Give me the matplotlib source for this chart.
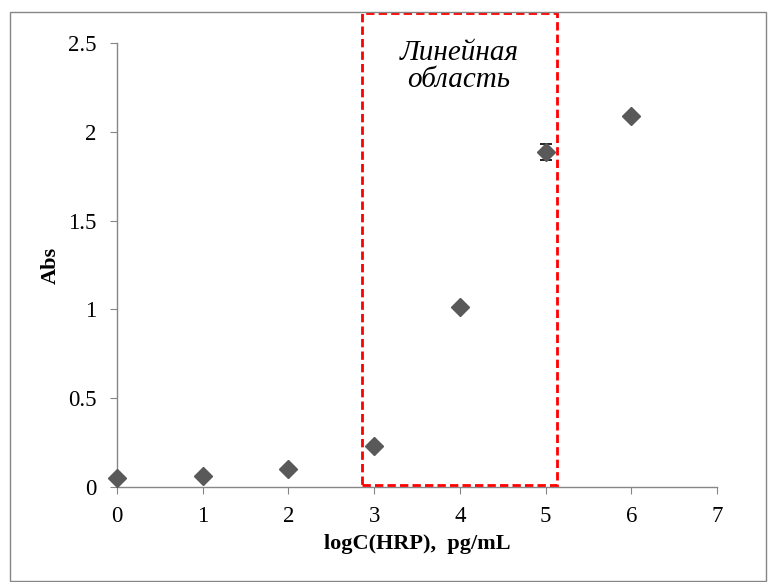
import matplotlib
matplotlib.use("Agg")
import matplotlib.pyplot as plt
from matplotlib.patches import Rectangle

x_vals = [0, 1, 2, 3, 4, 5, 6]
abs_vals = [0.051, 0.062, 0.101, 0.231, 1.013, 1.886, 2.089]
abs_err = [0, 0, 0, 0, 0, 0.045, 0]
x_ticks = [0, 1, 2, 3, 4, 5, 6, 7]
y_ticks = [0, 0.5, 1, 1.5, 2, 2.5]
y_tick_labels = ["0", "0.5", "1", "1.5", "2", "2.5"]
region = (2.86, 5.13)
annot = "Линейная\nобласть"

plt.rcParams['font.family'] = ['Liberation Serif', 'DejaVu Serif']

fig = plt.figure(figsize=(7.68, 5.82), dpi=100)
ax = fig.add_axes([117/768, 1-487/582, 600/768, 444/582])

ax.errorbar(x_vals, abs_vals, yerr=abs_err, fmt='D', color='#595959',
            markersize=9.5, ecolor='black', elinewidth=1, capsize=4, capthick=1.2,
            zorder=3, clip_on=False)

ax.set_xlim(0, 7)
ax.set_ylim(0, 2.5)
ax.set_xticks(x_ticks)
ax.set_yticks(y_ticks)
ax.set_yticklabels(y_tick_labels)
for s in ['top', 'right']:
    ax.spines[s].set_visible(False)
for s in ['left', 'bottom']:
    ax.spines[s].set_color('#868686')
    ax.spines[s].set_linewidth(1)
ax.tick_params(direction='out', length=5, color='#868686', labelsize=16.5,
               labelcolor='black')
ax.tick_params(axis='x', pad=9)
ax.tick_params(axis='y', pad=10)

ax.set_xlabel("logC(HRP),  pg/mL", fontsize=16, fontweight='bold')
ax.xaxis.set_label_coords(0.5, -0.105)
ax.set_ylabel("Abs", fontsize=16, fontweight='bold')
ax.yaxis.set_label_coords(-0.093, 0.5)

rect = Rectangle((region[0], 0.012), region[1]-region[0], 2.655, fill=False,
                 edgecolor='#ff0000', linestyle=(0, (3, 1.5)), linewidth=2,
                 clip_on=False, zorder=4)
ax.add_patch(rect)

ax.text(3.99, 2.37, annot, ha='center', va='center', fontsize=21,
        fontstyle='italic', linespacing=1.05)

border = Rectangle((10/768, 1-581/582), 756/768, 569/582, transform=fig.transFigure,
                   fill=False, edgecolor='#868686', linewidth=1)
fig.patches.append(border)

fig.savefig("out.png", dpi=100)
